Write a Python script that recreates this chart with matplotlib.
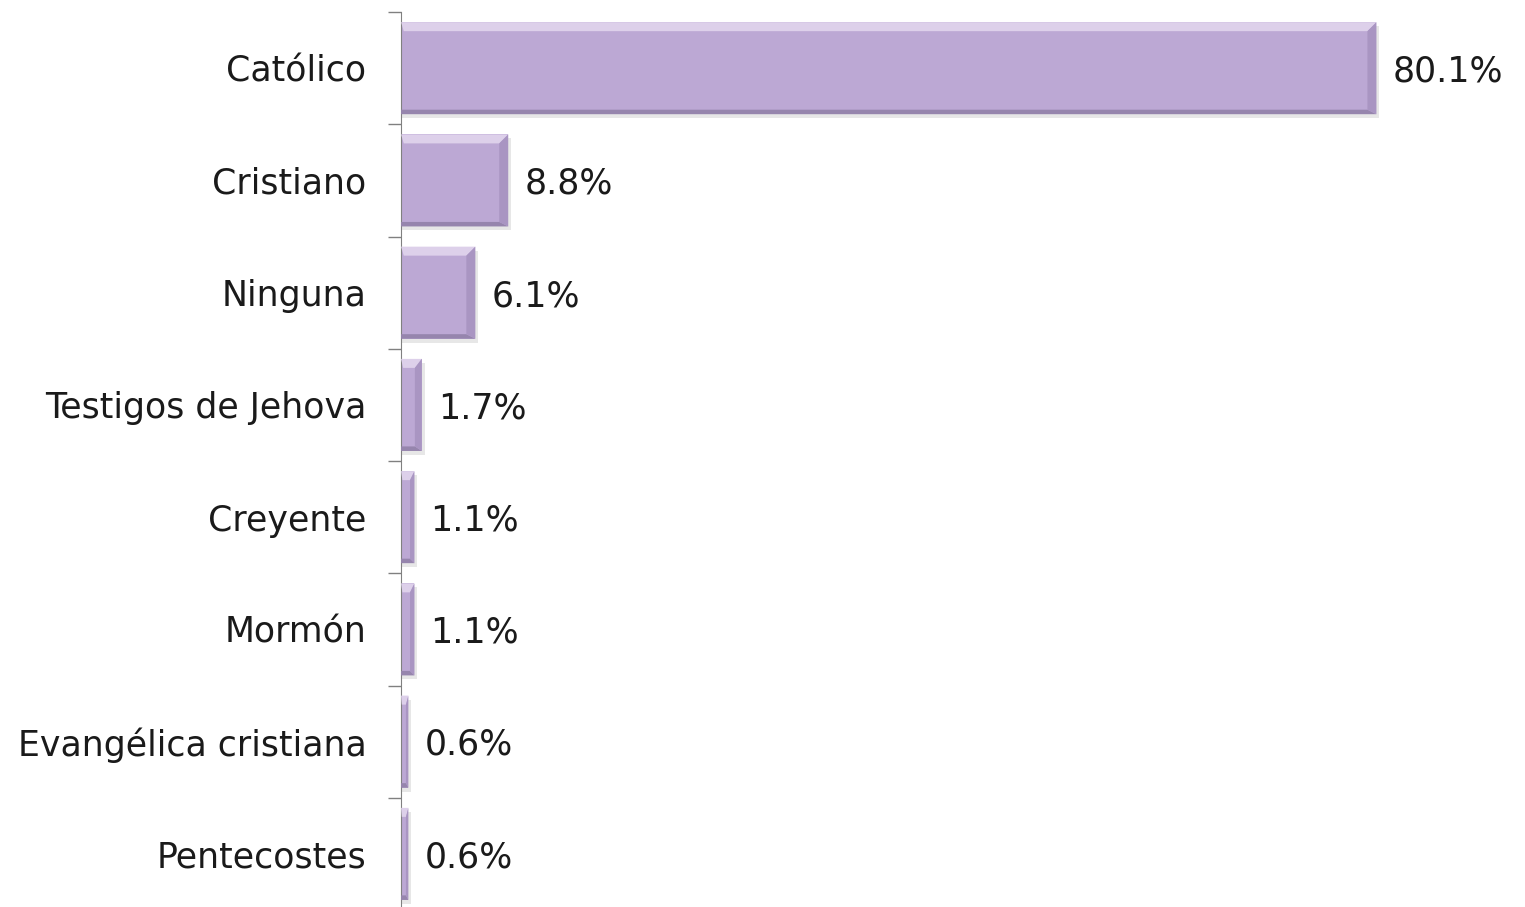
import matplotlib.pyplot as plt
from matplotlib.patches import Polygon

# data
categories = ['Católico', 'Cristiano', 'Ninguna', 'Testigos de Jehova',
              'Creyente', 'Mormón', 'Evangélica cristiana', 'Pentecostes']
values = [80.1, 8.8, 6.1, 1.7, 1.1, 1.1, 0.6, 0.6]
labels = ['80.1%', '8.8%', '6.1%', '1.7%', '1.1%', '1.1%', '0.6%', '0.6%']

bar_color = '#bca8d4'
light = '#ddd0ea'
dark = '#9685ad'
side = '#a995c2'
fs = 25

fig = plt.figure(figsize=(15.25, 9.07), dpi=100, facecolor='white')
ax = fig.add_axes([0.263, -0.0033, 0.737, 0.99])

n = len(categories)
y = list(range(n))
h = 0.82
px_x = 92.3 / (1525 * 0.737)   # data units per pixel, x
px_y = n / (907 * 0.99)         # data units per pixel, y

# soft shadow
ax.barh([yy + 4 * px_y for yy in y], [v + 3 * px_x for v in values], height=h,
        color='#d8d8d8', alpha=0.6, zorder=1)
ax.barh(y, values, height=h, color=bar_color, zorder=2)

for yy, v, lab in zip(y, values, labels):
    top = yy - h / 2
    bot = yy + h / 2
    bx = min(9 * px_x, v / 3)
    by = 9 * px_y
    # top highlight
    ax.add_patch(Polygon([(0, top), (v, top), (v - bx, top + by), (bx * 0.3, top + by)],
                         closed=True, color=light, lw=0, zorder=3))
    # bottom edge
    ax.add_patch(Polygon([(0, bot), (v, bot), (v - bx, bot - 0.5 * by), (0, bot - 0.5 * by)],
                         closed=True, color=dark, lw=0, zorder=3))
    # right edge
    ax.add_patch(Polygon([(v, top), (v, bot), (v - bx, bot - 0.5 * by), (v - bx, top + by)],
                         closed=True, color=side, lw=0, zorder=3))
    ax.text(v + 16 * px_x, yy + 0.03, lab, va='center', ha='left',
            fontsize=fs, color='#1a1a1a', family='DejaVu Sans')

ax.set_xlim(0, 92.3)
ax.set_ylim(n - 0.5, -0.5)
ax.set_yticks(y)
ax.set_yticklabels(categories, fontsize=fs, color='#1a1a1a', family='DejaVu Sans')
ax.tick_params(axis='y', which='major', length=0, pad=25)
ax.set_yticks([i - 0.5 for i in range(n + 1)], minor=True)
ax.tick_params(axis='y', which='minor', length=9.5, color='#808080', width=1)
ax.set_xticks([])
for s in ['top', 'right', 'bottom']:
    ax.spines[s].set_visible(False)
ax.spines['left'].set_color('#808080')

fig.savefig('out.png', dpi=100, facecolor='white')
